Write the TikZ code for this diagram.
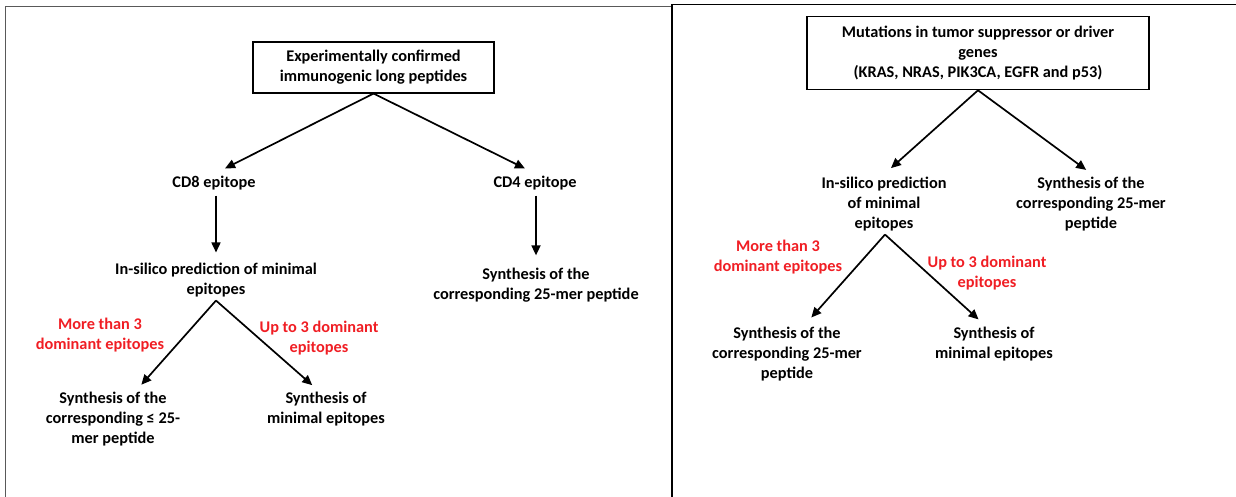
\documentclass[tikz,border=0pt]{standalone}
\usepackage{xcolor}
\usepackage{fontspec}
\setmainfont{Carlito}
\usetikzlibrary{arrows.meta}
\definecolor{epired}{RGB}{240,30,36}
\tikzset{
	boxnode/.style={draw, line width=1.1pt, align=center, font=\bfseries\fontsize{16.3}{20}\selectfont},
	txt/.style={align=center, font=\bfseries\fontsize{16.3}{20}\selectfont},
	redtxt/.style={txt, text=epired},
	arr/.style={-{Triangle[length=10pt,width=9pt]}, line width=1.7pt},
}

\begin{document}
\begin{tikzpicture}[x=1pt,y=-1pt]
			\useasboundingbox (0,0) rectangle (1236,497);
			\draw[black!65, line width=1.2pt] (5.5,497) -- (5.5,6.5) -- (672,6.5);
			\draw[line width=1.4pt] (672,497) -- (672,4.5) -- (1236,4.5);
			% left panel
			\node[boxnode, minimum width=241, minimum height=51] (lsrc) at (373.5,67.5) {Experimentally confirmed\\immunogenic long peptides};
			\node[txt] (cdeight) at (214,183) {CD8 epitope};
			\node[txt] (cdfour) at (535,183) {CD4 epitope};
			\node[txt] (lpred) at (216,280) {In-silico prediction of minimal\\epitopes};
			\node[txt] (lsynfour) at (536,285) {Synthesis of the\\corresponding 25-mer peptide};
			\node[redtxt] (lmore) at (100,335) {More than 3\\dominant epitopes};
			\node[redtxt] (lupto) at (319,338) {Up to 3 dominant\\epitopes};
			\node[txt] (lsynlong) at (113,419) {Synthesis of the\\corresponding ≤ 25-\\mer peptide};
			\node[txt] (lsynmin) at (326,409) {Synthesis of\\minimal epitopes};
			\draw[arr, shorten >=9pt] (lsrc.south) -- ([xshift=3]cdeight.north);
			\draw[arr, shorten >=9pt] (lsrc.south) -- ([xshift=-2]cdfour.north);
			\draw[arr, shorten <=2pt, shorten >=7pt] ([xshift=2]cdeight.south) -- (lpred.north);
			\draw[arr, shorten <=2pt, shorten >=9pt] ([xshift=1]cdfour.south) -- (lsynfour.north);
			\draw[arr, shorten >=5pt] (lpred.south) -- ([xshift=25]lsynlong.north);
			\draw[arr, shorten >=5pt] (lpred.south) -- ([xshift=-10]lsynmin.north);
			% right panel
			\node[boxnode, minimum width=342, minimum height=73.5] (rsrc) at (978,53) {Mutations in tumor suppressor or driver\\genes\\(KRAS, NRAS, PIK3CA, EGFR and p53)};
			\node[txt] (rpred) at (884,204) {In-silico prediction\\of minimal\\epitopes};
			\node[txt] (rsynfour) at (1091,204) {Synthesis of the\\corresponding 25-mer\\peptide};
			\node[redtxt] (rmore) at (778,257) {More than 3\\dominant epitopes};
			\node[redtxt] (rupto) at (987,273) {Up to 3 dominant\\epitopes};
			\node[txt] (rsynlong) at (787,354) {Synthesis of the\\corresponding 25-mer\\peptide};
			\node[txt] (rsynmin) at (994,344) {Synthesis of\\minimal epitopes};
			\draw[arr, shorten >=8pt] (rsrc.south) -- ([xshift=1]rpred.north);
			\draw[arr, shorten >=6pt] (rsrc.south) -- (rsynfour.north);
			\draw[arr, shorten >=8pt] ([xshift=1]rpred.south) -- ([xshift=19]rsynlong.north);
			\draw[arr, shorten >=6pt] ([xshift=1]rpred.south) -- ([xshift=-11]rsynmin.north);
\end{tikzpicture}
\end{document}
